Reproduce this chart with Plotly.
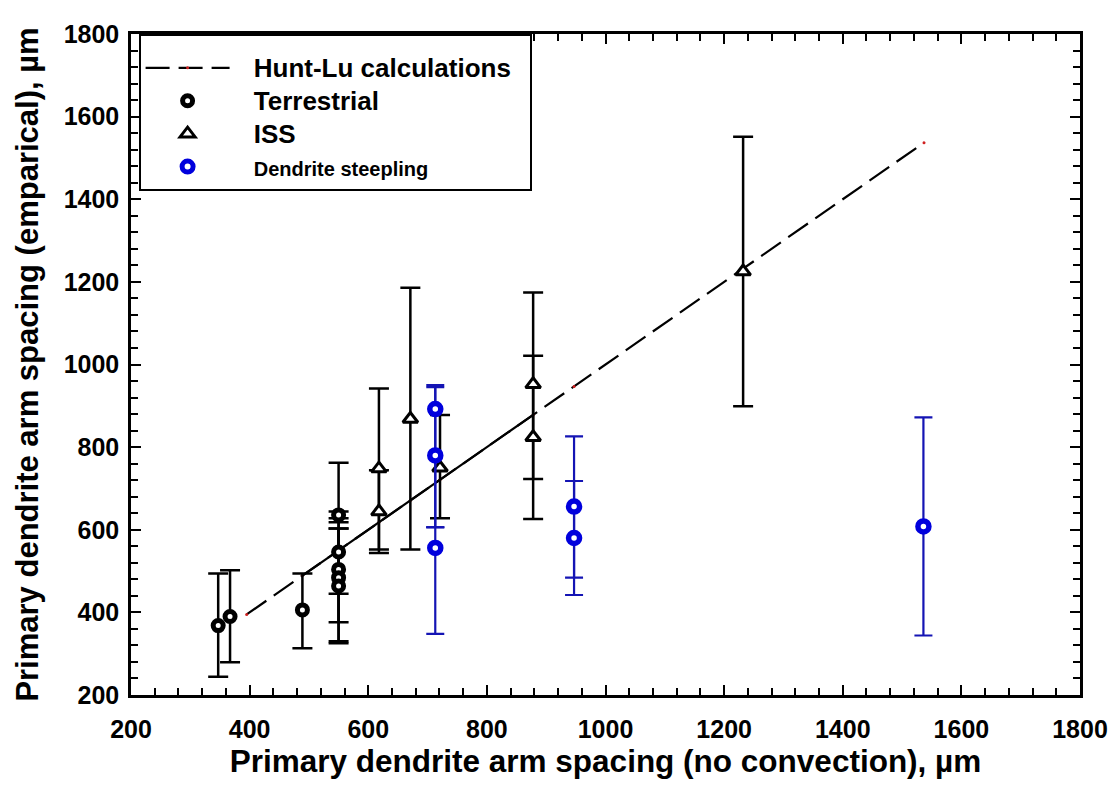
import plotly.graph_objects as go

# ---- data ----
terr_x = [347, 367, 489, 550, 550, 550, 550, 550]
terr_y = [368, 390, 406, 636, 546, 504, 484, 464]
terr_plus = [126, 112, 88, 8, 216, 99, 134, 139]
terr_minus = [124, 111, 93, 8, 216, 59, 108, 139]

iss_x = [618, 618, 671, 721, 878, 878, 1232]
iss_y = [748, 644, 868, 750, 952, 824, 1225]
iss_plus = [194, 100, 318, 128, 222, 197, 326]
iss_minus = [196, 100, 316, 122, 229, 198, 326]

steep_x = [713, 713, 713, 947, 947, 1536]
steep_y = [892, 780, 556, 656, 580, 608]
steep_plus = [58, 165, 50, 170, 138, 264]
steep_minus = [286, 174, 208, 172, 138, 264]

hunt_x = [395, 489, 550, 618, 671, 721, 878, 947, 1232, 1537]
hunt_y = [395, 489, 550, 618, 671, 721, 878, 947, 1232, 1537]

x_ticks = [200, 400, 600, 800, 1000, 1200, 1400, 1600, 1800]
y_ticks = [200, 400, 600, 800, 1000, 1200, 1400, 1600, 1800]

FONT = "Liberation Sans, Arial, sans-serif"
PAD = "\u00a0\u00a0\u00a0"


def legend_name(text, size=26):
    return PAD + f'<span style="font-size:{size}px">{text}</span>'


fig = go.Figure()

fig.add_trace(go.Scatter(
    x=hunt_x, y=hunt_y, mode="lines+markers",
    name=legend_name("Hunt-Lu calculations") + "\u00a0\u00a0",
    line=dict(color="black", width=2.2, dash="24px,9px"),
    marker=dict(color="#d02020", size=3),
))
# densely sampled middle part appears solid in the original
fig.add_trace(go.Scatter(
    x=hunt_x[1:7], y=hunt_y[1:7], mode="lines", showlegend=False,
    line=dict(color="black", width=2.2), hoverinfo="skip",
))

fig.add_trace(go.Scatter(
    x=terr_x, y=terr_y, mode="markers", name=legend_name("Terrestrial"),
    marker=dict(symbol="circle", size=10, color="white",
                line=dict(color="black", width=5)),
    error_y=dict(type="data", array=terr_plus, arrayminus=terr_minus,
                 color="black", thickness=2.5, width=10),
))

fig.add_trace(go.Scatter(
    x=iss_x, y=iss_y, mode="markers", name=legend_name("ISS"),
    marker=dict(symbol="triangle-up", size=13, color="white",
                line=dict(color="black", width=3)),
    error_y=dict(type="data", array=iss_plus, arrayminus=iss_minus,
                 color="black", thickness=2.5, width=10),
))

fig.add_trace(go.Scatter(
    x=steep_x, y=steep_y, mode="markers",
    name=legend_name("Dendrite steepling", 20),
    marker=dict(symbol="circle", size=11, color="white",
                line=dict(color="#0000dd", width=5.5)),
    error_y=dict(type="data", array=steep_plus, arrayminus=steep_minus,
                 color="#1414b4", thickness=2.2, width=9),
))

axis_common = dict(
    showline=True, linecolor="black", linewidth=2.5, mirror="ticks",
    ticks="inside", ticklen=10, tickwidth=2, tickcolor="black",
    showgrid=False, zeroline=False,
    minor=dict(ticks="inside", ticklen=7, tickwidth=2, tickcolor="black", dtick=40),
)

fig.update_xaxes(
    range=[200, 1800], tickvals=x_ticks, ticktext=[str(v) for v in x_ticks],
    tickfont=dict(family=FONT, size=25, color="black", weight="bold"),
    ticklabelstandoff=10,
    title=dict(text="Primary dendrite arm spacing (no convection), \u00b5m",
               font=dict(family=FONT, size=31.5, color="black", weight="bold"),
               standoff=2),
    **axis_common,
)
fig.update_yaxes(
    range=[200, 1800], tickvals=y_ticks, ticktext=[str(v) for v in y_ticks],
    tickfont=dict(family=FONT, size=25, color="black", weight="bold"),
    ticklabelstandoff=4,
    title=dict(text="Primary dendrite arm spacing (emparical), \u00b5m",
               font=dict(family=FONT, size=31, color="black", weight="bold"),
               standoff=16),
    **axis_common,
)

fig.update_layout(
    width=1112, height=787, autosize=False,
    margin=dict(l=123, r=35, t=20, b=100),
    paper_bgcolor="white", plot_bgcolor="white",
    showlegend=True,
    legend=dict(
        x=0.008, y=1.0, xanchor="left", yanchor="top",
        bgcolor="white", bordercolor="black", borderwidth=2,
        font=dict(family=FONT, size=23, color="black", weight="bold"),
        title=dict(text="\u00a0", font=dict(size=8)),
        itemwidth=84, tracegroupgap=0,
    ),
)

fig.write_html("out.html")
